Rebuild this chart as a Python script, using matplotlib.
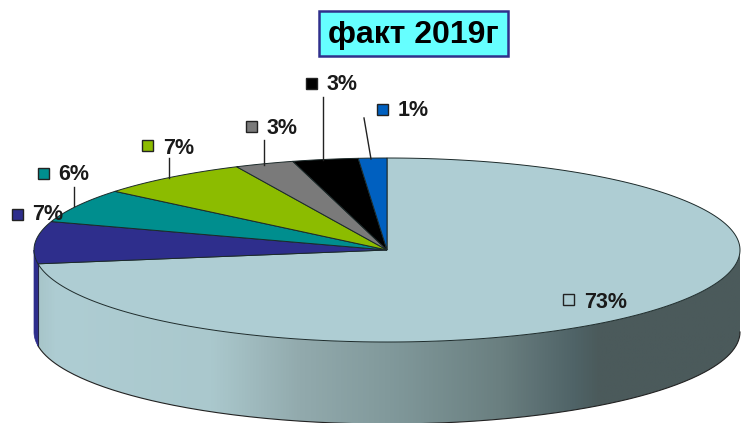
import numpy as np
import matplotlib
matplotlib.use('Agg')
import matplotlib.pyplot as plt
from matplotlib.colors import LinearSegmentedColormap
from matplotlib.patches import Polygon, Rectangle

plt.rcParams['font.family'] = ['Liberation Sans', 'DejaVu Sans']

# slices clockwise from 12 o'clock
labels = ['73%', '7%', '6%', '7%', '3%', '3%', '1%']
values = [72.6, 7.4, 6.0, 7.0, 2.7, 3.0, 1.3]
colors = ['#aecdd3', '#2e2e8c', '#008e8e', '#8cbc00', '#7a7a7a', '#000000', '#0060c0']

# label layout in image pixels: marker centre, text left, text centre y
marker_xy = [(568, 300), (17, 215), (43, 174), (147, 146), (251, 127), (311, 84), (382, 110)]
text_xy = [(584, 303), (32, 215), (58, 175), (163, 148), (267, 129), (327, 85), (398, 111)]
leaders = [None, None, ((74, 206), (74, 187)), ((169, 178), (169, 158)),
           ((264, 165), (264, 140)), ((323, 160), (323, 97)), ((371, 159), (364, 118))]

cx, cy, rx, ry, depth = 387, 250, 353, 92, 82


def ell(t):
    t = np.radians(t)
    return np.column_stack((cx + rx*np.cos(t), cy - ry*np.sin(t)))


fig = plt.figure(figsize=(7.42, 4.23), dpi=100)
ax = fig.add_axes([0, 0, 1, 1])

shares = np.array(values)/sum(values)*360
ends = 90 - np.cumsum(shares)
starts = ends + shares

# side wall, gradient for the big slice, flat colour for the sliver on the left
t_end = ends[0]
top = ell(np.linspace(0, t_end, 300))
bottom = top + [0, depth]
wall = Polygon(np.vstack((top, bottom[::-1])), closed=True, fc='none', ec='none')
ax.add_patch(wall)
cmap = LinearSegmentedColormap.from_list('wall', [
    (0, '#a6c4c8'), (0.03, '#aecdd3'), (0.25, '#aac8cd'), (0.375, '#92aaad'),
    (0.517, '#7f9799'), (0.66, '#6a7f80'), (0.765, '#4f6367'), (0.80, '#4b5a5b'), (1, '#4b5a5b')])
im = ax.imshow(np.linspace(0, 1, 512).reshape(1, -1), cmap=cmap, aspect='auto',
               extent=(35, 741, 423, 250), zorder=1)
im.set_clip_path(wall)
ax.plot(bottom[:, 0], bottom[:, 1], color='#222222', lw=0.8, zorder=2)
ax.plot([bottom[-1, 0], top[-1, 0]], [bottom[-1, 1], top[-1, 1]], color='#222222', lw=0.8, zorder=2)

side = ell(np.linspace(180, t_end + 360, 40))
ax.add_patch(Polygon(np.vstack((side, (side + [0, depth])[::-1])), closed=True,
                     fc=colors[1], ec=colors[1], lw=0.5, zorder=2))

# top face
for s, e, c in zip(starts, ends, colors):
    arc = ell(np.linspace(s, e, 200))
    pts = np.vstack(([[cx, cy]], arc))
    ax.add_patch(Polygon(pts, closed=True, fc=c, ec='#1c2a2a', lw=0.7, zorder=3))

# labels with leaders and colour keys
for i, lab in enumerate(labels):
    mx, my = marker_xy[i]
    ax.add_patch(Rectangle((mx - 5.5, my - 5.5), 11, 11, fc=colors[i], ec='#222222', lw=1, zorder=5))
    ax.text(text_xy[i][0], text_xy[i][1], lab, fontsize=15.5, fontweight='bold', color='#1a1a1a',
            ha='left', va='center', zorder=6)
    if leaders[i] is not None:
        ax.plot(*zip(*leaders[i]), color='#222222', lw=1, zorder=4)

ax.add_patch(Rectangle((318.5, 11.5), 189.5, 45, fc='#66ffff', ec='#30308c', lw=1.8, zorder=5))
ax.text(413.5, 35, 'факт 2019г', fontsize=23, fontweight='bold', color='#000000',
        ha='center', va='center', zorder=6)

ax.set_xlim(0, 742)
ax.set_ylim(423, 0)
ax.axis('off')
fig.savefig('out.png', dpi=100)
